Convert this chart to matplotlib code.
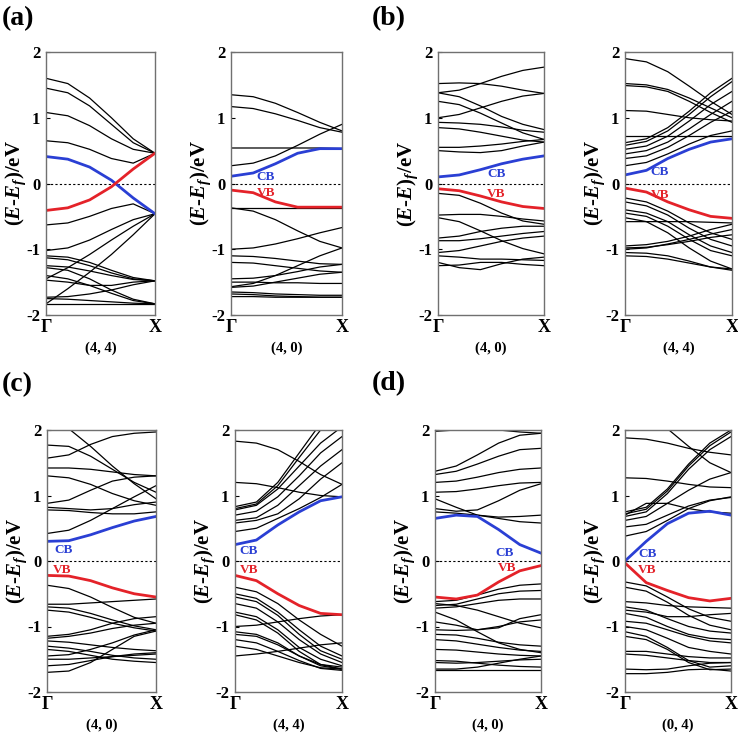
import matplotlib
matplotlib.use('Agg')
import matplotlib.pyplot as plt

plt.rcParams['font.family'] = ['Liberation Serif', 'DejaVu Serif']
plt.rcParams['font.weight'] = 'bold'
plt.rcParams['mathtext.fontset'] = 'custom'
plt.rcParams['mathtext.rm'] = 'Liberation Serif:bold'
plt.rcParams['mathtext.it'] = 'Liberation Serif:bold:italic'
plt.rcParams['mathtext.bf'] = 'Liberation Serif:bold'
plt.rcParams['axes.unicode_minus'] = False

# k path sampled from Gamma (0) to X (1)
k_points = [0.0, 0.2, 0.4, 0.6, 0.8, 1.0]
y_ticks = [-2, -1, 0, 1, 2]
y_tick_labels = ['-2', '-1', '0', '1', '2']
x_tick_labels = ['Γ', 'X']

# ---- (a) left: (4, 4)
a1_bands = [
    [1.60, 1.52, 1.30, 1.00, 0.68, 0.46],
    [1.45, 1.38, 1.18, 0.90, 0.62, 0.46],
    [1.08, 1.03, 0.88, 0.68, 0.52, 0.46],
    [0.65, 0.62, 0.52, 0.38, 0.31, 0.46],
    [-0.63, -0.60, -0.50, -0.38, -0.31, -0.46],
    [-1.02, -0.98, -0.86, -0.70, -0.55, -0.46],
    [-1.45, -1.28, -1.08, -0.86, -0.65, -0.46],
    [-1.83, -1.60, -1.35, -1.08, -0.78, -0.46],
    [-1.10, -1.12, -1.20, -1.32, -1.43, -1.48],
    [-1.13, -1.16, -1.25, -1.36, -1.45, -1.48],
    [-1.25, -1.27, -1.33, -1.40, -1.46, -1.48],
    [-1.28, -1.32, -1.45, -1.62, -1.76, -1.83],
    [-1.40, -1.45, -1.55, -1.67, -1.78, -1.83],
    [-1.47, -1.50, -1.55, -1.55, -1.50, -1.48],
    [-1.73, -1.72, -1.68, -1.62, -1.54, -1.48],
    [-1.75, -1.76, -1.78, -1.80, -1.82, -1.83],
    [-1.83, -1.83, -1.83, -1.83, -1.83, -1.83],
]
a1_cb = [0.41, 0.37, 0.25, 0.05, -0.22, -0.46]
a1_vb = [-0.41, -0.37, -0.25, -0.05, 0.22, 0.46]

# ---- (a) right: (4, 0)
a2_bands = [
    [1.35, 1.32, 1.22, 1.08, 0.93, 0.80],
    [1.17, 1.14, 1.06, 0.96, 0.85, 0.78],
    [0.54, 0.54, 0.54, 0.54, 0.54, 0.53],
    [0.27, 0.31, 0.42, 0.58, 0.75, 0.90],
    [-0.37, -0.37, -0.37, -0.37, -0.37, -0.37],
    [-0.37, -0.42, -0.55, -0.72, -0.88, -0.98],
    [-1.00, -0.98, -0.92, -0.84, -0.75, -0.67],
    [-1.57, -1.52, -1.40, -1.25, -1.10, -0.98],
    [-1.10, -1.11, -1.14, -1.18, -1.22, -1.23],
    [-1.20, -1.21, -1.25, -1.29, -1.33, -1.35],
    [-1.45, -1.44, -1.40, -1.34, -1.27, -1.23],
    [-1.50, -1.50, -1.51, -1.51, -1.52, -1.52],
    [-1.58, -1.56, -1.50, -1.44, -1.38, -1.35],
    [-1.65, -1.66, -1.68, -1.69, -1.70, -1.70],
    [-1.68, -1.69, -1.71, -1.72, -1.73, -1.73],
    [-1.72, -1.72, -1.73, -1.73, -1.73, -1.73],
]
a2_cb = [0.11, 0.16, 0.30, 0.46, 0.53, 0.53]
a2_vb = [-0.10, -0.14, -0.28, -0.36, -0.36, -0.36]

# ---- (b) left: (4, 0)
b1_bands = [
    [1.52, 1.53, 1.52, 1.48, 1.42, 1.37],
    [1.38, 1.42, 1.52, 1.63, 1.72, 1.77],
    [1.25, 1.20, 1.07, 0.92, 0.77, 0.67],
    [1.00, 1.05, 1.15, 1.25, 1.33, 1.37],
    [1.38, 1.32, 1.18, 1.02, 0.90, 0.82],
    [0.93, 0.92, 0.90, 0.86, 0.81, 0.78],
    [0.85, 0.83, 0.78, 0.72, 0.66, 0.63],
    [0.55, 0.55, 0.57, 0.60, 0.64, 0.67],
    [0.50, 0.48, 0.47, 0.50, 0.57, 0.63],
    [-0.15, -0.18, -0.30, -0.45, -0.57, -0.62],
    [-0.48, -0.47, -0.47, -0.50, -0.54, -0.57],
    [-0.52, -0.58, -0.72, -0.87, -0.99, -1.07],
    [-0.83, -0.80, -0.73, -0.68, -0.65, -0.65],
    [-0.87, -0.87, -0.84, -0.80, -0.76, -0.73],
    [-1.05, -1.02, -0.95, -0.88, -0.83, -0.80],
    [-1.10, -1.12, -1.15, -1.15, -1.16, -1.17],
    [-1.20, -1.28, -1.31, -1.22, -1.15, -1.12],
    [-1.25, -1.24, -1.20, -1.20, -1.23, -1.25],
]
b1_cb = [0.10, 0.13, 0.21, 0.30, 0.37, 0.42]
b1_vb = [-0.08, -0.11, -0.19, -0.28, -0.35, -0.38]

# ---- (b) right: (4, 4)
b2_bands = [
    [1.90, 1.85, 1.70, 1.48, 1.25, 1.05],
    [1.52, 1.50, 1.43, 1.30, 1.15, 1.00],
    [1.49, 1.47, 1.40, 1.25, 1.08, 0.93],
    [1.11, 1.10, 1.05, 1.00, 0.97, 0.95],
    [0.72, 0.72, 0.72, 0.72, 0.72, 0.72],
    [0.62, 0.68, 0.85, 1.10, 1.38, 1.60],
    [0.58, 0.64, 0.80, 1.05, 1.32, 1.55],
    [0.52, 0.57, 0.72, 0.95, 1.20, 1.40],
    [0.45, 0.50, 0.63, 0.83, 1.05, 1.25],
    [0.38, 0.42, 0.55, 0.73, 0.93, 1.10],
    [0.27, 0.32, 0.45, 0.60, 0.73, 0.80],
    [-0.22, -0.28, -0.42, -0.60, -0.75, -0.85],
    [-0.28, -0.34, -0.48, -0.68, -0.85, -0.95],
    [-0.40, -0.45, -0.58, -0.78, -0.95, -1.05],
    [-0.45, -0.50, -0.65, -0.85, -1.02, -1.10],
    [-0.52, -0.58, -0.75, -0.98, -1.18, -1.30],
    [-0.58, -0.58, -0.58, -0.58, -0.59, -0.60],
    [-0.95, -0.93, -0.88, -0.80, -0.70, -0.62],
    [-0.98, -0.97, -0.93, -0.88, -0.82, -0.78],
    [-1.00, -0.98, -0.92, -0.85, -0.77, -0.70],
    [-1.05, -1.06, -1.10, -1.18, -1.27, -1.32],
    [-1.10, -1.11, -1.15, -1.21, -1.27, -1.30],
]
b2_cb = [0.13, 0.20, 0.38, 0.52, 0.63, 0.68]
b2_vb = [-0.07, -0.13, -0.28, -0.40, -0.50, -0.53]

# ---- (c) left: (4, 0)
c1_bands = [
    [1.77, 1.75, 1.60, 1.40, 1.20, 1.05],
    [2.15, 2.02, 1.75, 1.45, 1.18, 0.95],
    [1.57, 1.62, 1.78, 1.90, 1.95, 1.97],
    [1.42, 1.42, 1.40, 1.36, 1.32, 1.30],
    [1.30, 1.27, 1.17, 1.03, 0.92, 0.85],
    [0.88, 0.93, 1.08, 1.22, 1.28, 1.30],
    [0.82, 0.80, 0.78, 0.80, 0.86, 0.90],
    [0.78, 0.77, 0.74, 0.72, 0.72, 0.75],
    [0.42, 0.47, 0.62, 0.80, 0.98, 1.15],
    [-0.37, -0.42, -0.55, -0.71, -0.86, -0.95],
    [-0.66, -0.66, -0.64, -0.62, -0.60, -0.58],
    [-0.70, -0.72, -0.80, -0.90, -0.99, -1.05],
    [-0.75, -0.78, -0.86, -0.95, -1.02, -1.07],
    [-1.15, -1.12, -1.05, -0.95, -0.88, -0.85],
    [-1.18, -1.15, -1.10, -1.03, -0.98, -0.95],
    [-1.22, -1.24, -1.28, -1.32, -1.35, -1.37],
    [-1.30, -1.33, -1.38, -1.44, -1.48, -1.50],
    [-1.35, -1.38, -1.44, -1.50, -1.53, -1.55],
    [-1.45, -1.43, -1.35, -1.25, -1.13, -1.05],
    [-1.50, -1.50, -1.48, -1.46, -1.44, -1.42],
    [-1.60, -1.58, -1.52, -1.46, -1.42, -1.40],
    [-1.70, -1.68, -1.55, -1.35, -1.15, -1.07],
]
c1_cb = [0.30, 0.31, 0.40, 0.51, 0.61, 0.68]
c1_vb = [-0.22, -0.23, -0.30, -0.41, -0.50, -0.55]

# ---- (c) right: (4, 4)
c2_bands = [
    [1.83, 1.80, 1.70, 1.52, 1.32, 1.17],
    [1.20, 1.18, 1.12, 1.05, 1.00, 0.98],
    [0.83, 0.90, 1.20, 1.65, 2.10, 2.40],
    [0.80, 0.87, 1.15, 1.58, 2.00, 2.30],
    [0.78, 0.85, 1.10, 1.45, 1.80, 2.05],
    [0.70, 0.76, 0.98, 1.30, 1.65, 1.90],
    [0.62, 0.66, 0.85, 1.15, 1.45, 1.70],
    [0.58, 0.62, 0.72, 0.95, 1.25, 1.50],
    [0.45, 0.50, 0.65, 0.80, 0.97, 1.17],
    [-0.40, -0.47, -0.65, -0.90, -1.12, -1.30],
    [-0.50, -0.57, -0.78, -1.05, -1.30, -1.45],
    [-0.55, -0.62, -0.83, -1.12, -1.37, -1.50],
    [-0.65, -0.72, -0.93, -1.20, -1.42, -1.55],
    [-0.78, -0.85, -1.05, -1.32, -1.50, -1.60],
    [-0.82, -0.90, -1.10, -1.38, -1.58, -1.65],
    [-1.00, -0.98, -0.93, -0.88, -0.84, -0.82],
    [-1.08, -1.12, -1.25, -1.45, -1.60, -1.65],
    [-1.12, -1.15, -1.28, -1.45, -1.58, -1.62],
    [-1.20, -1.25, -1.38, -1.52, -1.64, -1.67],
    [-1.30, -1.35, -1.45, -1.55, -1.63, -1.65],
    [-1.45, -1.42, -1.38, -1.33, -1.28, -1.25],
]
c2_cb = [0.25, 0.32, 0.55, 0.75, 0.92, 0.98]
c2_vb = [-0.22, -0.30, -0.50, -0.68, -0.80, -0.82]

# ---- (d) left: (4, 0)
d1_bands = [
    [2.03, 2.03, 2.02, 2.00, 1.97, 1.95],
    [1.98, 2.00, 2.02, 2.03, 2.03, 2.03],
    [1.37, 1.45, 1.62, 1.80, 1.92, 1.95],
    [1.32, 1.37, 1.48, 1.60, 1.70, 1.72],
    [1.20, 1.22, 1.28, 1.35, 1.40, 1.42],
    [1.05, 1.06, 1.10, 1.15, 1.19, 1.20],
    [0.95, 0.82, 0.70, 0.65, 0.60, 0.58],
    [0.80, 0.76, 0.78, 0.92, 1.08, 1.18],
    [0.75, 0.73, 0.70, 0.67, 0.68, 0.70],
    [-0.62, -0.60, -0.52, -0.43, -0.37, -0.35],
    [-0.68, -0.66, -0.58, -0.50, -0.46, -0.45],
    [-0.72, -0.70, -0.65, -0.60, -0.58, -0.58],
    [-0.65, -0.68, -0.75, -0.85, -0.95, -1.02],
    [-0.93, -0.98, -1.05, -1.02, -0.88, -0.82],
    [-1.05, -1.06, -1.05, -1.00, -0.93, -0.90],
    [-0.78, -0.90, -1.08, -1.25, -1.35, -1.40],
    [-1.12, -1.13, -1.18, -1.24, -1.28, -1.30],
    [-1.20, -1.22, -1.27, -1.32, -1.36, -1.38],
    [-1.35, -1.36, -1.39, -1.42, -1.44, -1.45],
    [-1.52, -1.53, -1.56, -1.59, -1.61, -1.62],
    [-1.55, -1.56, -1.55, -1.53, -1.51, -1.50],
    [-1.65, -1.65, -1.62, -1.56, -1.50, -1.45],
    [-1.67, -1.67, -1.67, -1.67, -1.67, -1.67],
]
d1_cb = [0.65, 0.70, 0.68, 0.48, 0.25, 0.12]
d1_vb = [-0.55, -0.58, -0.52, -0.32, -0.15, -0.07]

# ---- (d) right: (0, 4)
d2_bands = [
    [1.88, 1.86, 1.80, 1.72, 1.66, 1.62],
    [2.30, 2.20, 2.02, 1.75, 1.50, 1.35],
    [1.27, 1.26, 1.22, 1.17, 1.13, 1.12],
    [0.75, 0.82, 1.10, 1.48, 1.80, 2.00],
    [0.72, 0.79, 1.07, 1.45, 1.76, 1.97],
    [0.68, 0.75, 1.03, 1.40, 1.70, 1.90],
    [0.62, 0.68, 0.88, 1.08, 1.25, 1.35],
    [0.52, 0.56, 0.70, 0.84, 0.93, 0.97],
    [0.38, 0.45, 0.62, 0.80, 0.92, 0.98],
    [0.70, 0.88, 0.88, 0.80, 0.75, 0.73],
    [-0.32, -0.38, -0.55, -0.73, -0.86, -0.92],
    [-0.40, -0.46, -0.63, -0.83, -0.98, -1.05],
    [-0.62, -0.64, -0.68, -0.70, -0.71, -0.72],
    [-0.70, -0.75, -0.88, -1.00, -1.07, -1.10],
    [-0.75, -0.78, -0.85, -0.85, -0.82, -0.80],
    [-0.80, -0.86, -1.00, -1.12, -1.18, -1.20],
    [-0.92, -0.95, -1.05, -1.15, -1.22, -1.25],
    [-1.00, -1.05, -1.18, -1.32, -1.38, -1.42],
    [-1.08, -1.15, -1.32, -1.52, -1.62, -1.60],
    [-1.15, -1.20, -1.35, -1.55, -1.66, -1.65],
    [-1.38, -1.38, -1.42, -1.46, -1.48, -1.48],
    [-1.42, -1.44, -1.48, -1.52, -1.55, -1.55],
    [-1.65, -1.66, -1.65, -1.60, -1.56, -1.55],
    [-1.72, -1.72, -1.70, -1.66, -1.65, -1.68],
]
d2_cb = [0.00, 0.30, 0.57, 0.73, 0.76, 0.70]
d2_vb = [-0.03, -0.33, -0.45, -0.56, -0.61, -0.57]

# CB / VB text positions (k, E)
cb_text_pos = {'a2': (0.31, 0.10), 'b1': (0.55, 0.14), 'b2': (0.32, 0.17),
               'c1': (0.15, 0.17), 'c2': (0.13, 0.16), 'd1': (0.66, 0.12),
               'd2': (0.21, 0.11)}
vb_text_pos = {'a2': (0.32, -0.14), 'b1': (0.55, -0.16), 'b2': (0.33, -0.18),
               'c1': (0.14, -0.13), 'c2': (0.13, -0.13), 'd1': (0.68, -0.11),
               'd2': (0.21, -0.14)}

# U+2010 hyphen keeps "E-E" tight instead of a spaced math minus
ylab = r'$\mathrm{(}E\mathrm{‐}E_{f}\mathrm{)/eV}$'
ylab_b1 = r'$\mathrm{(}E\mathrm{‐}E\mathrm{)}_{f}\mathrm{/eV}$'

W, H = 738, 734
fig = plt.figure(figsize=(W / 100, H / 100), dpi=100)

def rect(x0, x1, y0, y1):
    # pixel box -> figure fraction
    return [x0 / W, 1 - y1 / H, (x1 - x0) / W, (y1 - y0) / H]

panels = [
    ('a1', rect(46, 155, 52, 315), a1_bands, a1_cb, a1_vb, '(4, 4)', ylab),
    ('a2', rect(231, 342, 52, 315), a2_bands, a2_cb, a2_vb, '(4, 0)', ylab),
    ('b1', rect(438, 544, 52, 315), b1_bands, b1_cb, b1_vb, '(4, 0)', ylab_b1),
    ('b2', rect(625, 732, 52, 315), b2_bands, b2_cb, b2_vb, '(4, 4)', ylab),
    ('c1', rect(47, 156, 430, 692), c1_bands, c1_cb, c1_vb, '(4, 0)', ylab),
    ('c2', rect(235, 342, 430, 692), c2_bands, c2_cb, c2_vb, '(4, 4)', ylab),
    ('d1', rect(435, 541, 430, 692), d1_bands, d1_cb, d1_vb, '(4, 0)', ylab),
    ('d2', rect(625, 731, 430, 692), d2_bands, d2_cb, d2_vb, '(0, 4)', ylab),
]

blue = '#2a3fd4'
red = '#e42229'

for key, r, bands, cb, vb, name, ylabel in panels:
    ax = fig.add_axes(r)
    for band in bands:
        ax.plot(k_points, band, color='black', lw=0.9)
    ax.axhline(0, color='black', lw=0.8, ls=(0, (2, 2)))
    ax.plot(k_points, cb, color=blue, lw=2.0)
    ax.plot(k_points, vb, color=red, lw=2.0)
    if key in cb_text_pos:
        ax.text(*cb_text_pos[key], 'CB', color=blue, fontsize=9.5,
                ha='center', va='center', fontweight='bold')
        ax.text(*vb_text_pos[key], 'VB', color=red, fontsize=9.5,
                ha='center', va='center', fontweight='bold')
    ax.set_xlim(0, 1)
    ax.set_ylim(-2, 2)
    ax.set_yticks(y_ticks)
    ax.set_yticklabels(y_tick_labels, fontsize=12, fontweight='bold')
    ax.set_xticks([0, 1])
    ax.set_xticklabels(x_tick_labels, fontsize=13, fontweight='bold')
    ax.tick_params(axis='y', direction='in', length=3, width=0.8, pad=4)
    ax.tick_params(axis='x', length=0, pad=3)
    ax.set_ylabel(ylabel, fontsize=15)
    # label centre about 30 px left of the axes box
    ax.yaxis.set_label_coords(-30 / (r[2] * W), 0.5)
    ax.yaxis.label.set_verticalalignment('center')
    ax.set_xlabel(name, fontsize=10.5, fontweight='bold', labelpad=4)
    for sp in ax.spines.values():
        sp.set_color('#707070')
        sp.set_linewidth(1.0)

for lab, x, y in [('(a)', 2, 19), ('(b)', 372, 19), ('(c)', 2, 385), ('(d)', 372, 384)]:
    fig.text(x / W, 1 - y / H, lab, fontsize=20, fontweight='bold',
             ha='left', va='center')

fig.savefig('out.png', dpi=100)
